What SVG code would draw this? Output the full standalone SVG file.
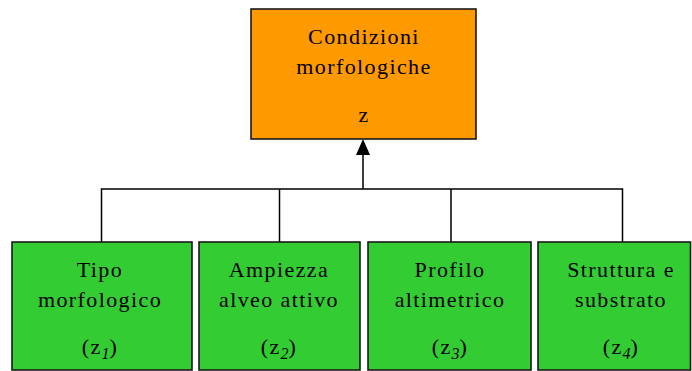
<svg xmlns="http://www.w3.org/2000/svg" width="692" height="371" viewBox="0 0 692 371">
<style>
.box{stroke:#1a1a1a;stroke-width:1.6}
.top{fill:#FF9900}
.leaf{fill:#33CC33}
.t{font-family:"Liberation Serif","Times New Roman",serif;font-size:22px;letter-spacing:1.4px;fill:#000;text-anchor:middle}
.sub{font-size:16px;font-style:italic;letter-spacing:0}
.ln{stroke:#000;stroke-width:1.5;fill:none}
</style>
<rect width="692" height="371" fill="#fff"/>
<g id="connectors">
<polyline class="ln" points="101.5,242 101.5,189 622.5,189 622.5,242"/>
<line class="ln" x1="279.5" y1="189" x2="279.5" y2="242"/>
<line class="ln" x1="451" y1="189" x2="451" y2="242"/>
<line class="ln" x1="363" y1="189" x2="363" y2="152"/>
<polygon points="363,139 356,155 370,155" fill="#000"/>
</g>
<g id="node-z">
<rect class="box top" x="251" y="9" width="225" height="130"/>
<text class="t" x="364" y="44">Condizioni</text>
<text class="t" x="364" y="74">morfologiche</text>
<text class="t" x="364" y="122">z</text>
</g>
<g id="node-z1">
<rect class="box leaf" x="12" y="242" width="180" height="128"/>
<text class="t" x="100" y="277">Tipo</text>
<text class="t" x="100" y="307">morfologico</text>
<text class="t" x="100" y="354">(z<tspan class="sub" dy="5">1</tspan><tspan dy="-5">)</tspan></text>
</g>
<g id="node-z2">
<rect class="box leaf" x="199" y="242" width="161" height="128"/>
<text class="t" x="279" y="277">Ampiezza</text>
<text class="t" x="279" y="307">alveo attivo</text>
<text class="t" x="279" y="354">(z<tspan class="sub" dy="5">2</tspan><tspan dy="-5">)</tspan></text>
</g>
<g id="node-z3">
<rect class="box leaf" x="368" y="242" width="163" height="128"/>
<text class="t" x="450" y="277">Profilo</text>
<text class="t" x="450" y="307">altimetrico</text>
<text class="t" x="450" y="354">(z<tspan class="sub" dy="5">3</tspan><tspan dy="-5">)</tspan></text>
</g>
<g id="node-z4">
<rect class="box leaf" x="538" y="242" width="152.5" height="128"/>
<text class="t" x="621" y="277">Struttura e</text>
<text class="t" x="621" y="307">substrato</text>
<text class="t" x="621" y="354">(z<tspan class="sub" dy="5">4</tspan><tspan dy="-5">)</tspan></text>
</g>
</svg>
